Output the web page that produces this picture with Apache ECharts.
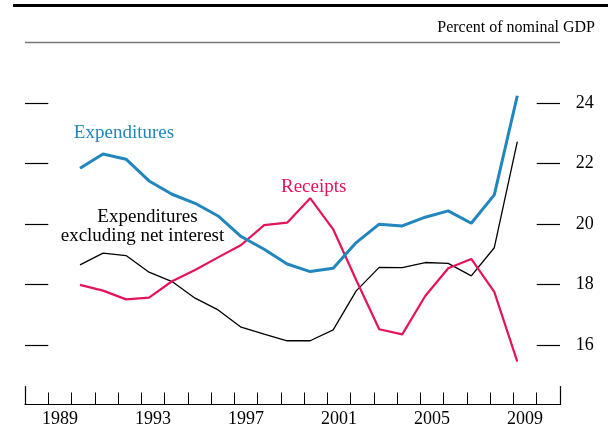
<!DOCTYPE html>
<html>
<head>
<meta charset="utf-8">
<script src="https://cdn.jsdelivr.net/npm/echarts@6/dist/echarts.min.js"></script>
<style>
  html, body { margin: 0; padding: 0; background: #fff; }
  #chart { width: 608px; height: 429px; }
</style>
</head>
<body>
<div id="chart"></div>
<script>
//--------------------------------
// Data
//--------------------------------
const years = [1990, 1991, 1992, 1993, 1994, 1995, 1996, 1997, 1998, 1999,
               2000, 2001, 2002, 2003, 2004, 2005, 2006, 2007, 2008, 2009];
const expenditures = [21.85, 22.32, 22.15, 21.43, 20.99, 20.69, 20.27, 19.59, 19.17, 18.68,
                      18.43, 18.54, 19.39, 20.0, 19.94, 20.23, 20.44, 20.03, 20.97, 24.25];
const exclInterest = [18.65, 19.04, 18.96, 18.41, 18.10, 17.55, 17.16, 16.59, 16.36, 16.14,
                      16.14, 16.50, 17.79, 18.57, 18.56, 18.73, 18.70, 18.29, 19.22, 22.73];
const receipts = [17.99, 17.80, 17.51, 17.57, 18.11, 18.48, 18.90, 19.31, 19.97, 20.05,
                  20.86, 19.83, 18.15, 16.52, 16.35, 17.62, 18.54, 18.85, 17.76, 15.45];
// tick categories of the bottom axis
const axisYears = ['1988', '1989', '1990', '1991', '1992', '1993', '1994', '1995', '1996', '1997',
                   '1998', '1999', '2000', '2001', '2002', '2003', '2004', '2005', '2006', '2007',
                   '2008', '2009', '2010'];
const shownYears = ['1989', '1993', '1997', '2001', '2005', '2009'];

//--------------------------------
// Chart
//--------------------------------
const FONT = '"Liberation Serif", "DejaVu Serif", serif';
const BLUE = '#2086bd';
const RED = '#e5135a';

const pairs = (vals) => years.map((y, i) => [y, vals[i]]);

const myChart = echarts.init(document.getElementById('chart'), null, { renderer: 'canvas' });

// short end caps of the year axis
const endCap = (pos) => ({
    gridIndex: 1,
    type: 'value',
    position: pos,
    axisLine: { show: true, lineStyle: { color: '#000', width: 1.2 } },
    axisTick: { show: false },
    axisLabel: { show: false },
    splitLine: { show: false }
});

const options = {
    animation: false,
    backgroundColor: '#fff',
    grid: [
        // plotting area for the lines
        { left: 80, right: 90.7, top: 103.3, bottom: 84 },
        // bottom year axis
        { left: 25, right: 48, top: 386.5, bottom: 24.5 }
    ],
    xAxis: [
        {
            gridIndex: 0,
            type: 'value',
            min: 1990,
            max: 2009,
            show: false
        },
        {
            gridIndex: 1,
            type: 'category',
            data: axisYears,
            boundaryGap: true,
            axisLine: { show: true, lineStyle: { color: '#000', width: 1.2 } },
            axisTick: { show: true, inside: true, length: 12, interval: 0, alignWithLabel: false,
                        lineStyle: { color: '#000', width: 1 } },
            axisLabel: {
                interval: (idx, val) => shownYears.includes(val),
                color: '#000',
                fontFamily: FONT,
                fontSize: 18,
                margin: 6
            },
            splitLine: { show: false }
        }
    ],
    yAxis: [
        {
            gridIndex: 0,
            type: 'value',
            min: 16,
            max: 24,
            interval: 2,
            position: 'left',
            offset: 31.7,
            axisLine: { show: false },
            axisTick: { show: true, length: 23.3, lineStyle: { color: '#000', width: 1.2 } },
            axisLabel: { show: false },
            splitLine: { show: false }
        },
        {
            gridIndex: 0,
            type: 'value',
            min: 16,
            max: 24,
            interval: 2,
            position: 'right',
            offset: 19.4,
            axisLine: { show: false },
            axisTick: { show: true, length: 23.3, lineStyle: { color: '#000', width: 1.2 } },
            axisLabel: {
                color: '#000',
                fontFamily: FONT,
                fontSize: 18,
                margin: 39
            },
            splitLine: { show: false }
        },
        endCap('left'),
        endCap('right')
    ],
    series: [
        {
            name: 'Expenditures excluding net interest',
            type: 'line',
            xAxisIndex: 0,
            yAxisIndex: 0,
            data: pairs(exclInterest),
            symbol: 'none',
            clip: false,
            lineStyle: { color: '#000', width: 1.3 }
        },
        {
            name: 'Receipts',
            type: 'line',
            xAxisIndex: 0,
            yAxisIndex: 0,
            data: pairs(receipts),
            symbol: 'none',
            clip: false,
            lineStyle: { color: RED, width: 2.2 }
        },
        {
            name: 'Expenditures',
            type: 'line',
            xAxisIndex: 0,
            yAxisIndex: 0,
            data: pairs(expenditures),
            symbol: 'none',
            clip: false,
            lineStyle: { color: BLUE, width: 3 }
        }
    ],
    graphic: [
        // heavy rule on top
        { type: 'line', shape: { x1: 13, y1: 5.5, x2: 608, y2: 5.5 }, style: { stroke: '#000', lineWidth: 3 } },
        // thin grey rule under the unit label
        { type: 'line', shape: { x1: 25, y1: 42.5, x2: 560, y2: 42.5 }, style: { stroke: '#777', lineWidth: 1.5 } },
        {
            type: 'text', x: 595, y: 28,
            style: { text: 'Percent of nominal GDP', fill: '#000', font: '16px ' + FONT, align: 'right', verticalAlign: 'middle' }
        },
        {
            type: 'text', x: 124, y: 133,
            style: { text: 'Expenditures', fill: BLUE, font: '19px ' + FONT, align: 'center', verticalAlign: 'middle' }
        },
        {
            type: 'text', x: 313.7, y: 187,
            style: { text: 'Receipts', fill: RED, font: '19px ' + FONT, align: 'center', verticalAlign: 'middle' }
        },
        {
            type: 'text', x: 147.5, y: 217.5,
            style: { text: 'Expenditures', fill: '#000', font: '19px ' + FONT, align: 'center', verticalAlign: 'middle' }
        },
        {
            type: 'text', x: 142.5, y: 236.5,
            style: { text: 'excluding net interest', fill: '#000', font: '19px ' + FONT, align: 'center', verticalAlign: 'middle' }
        }
    ]
};

myChart.setOption(options);
</script>
</body>
</html>
